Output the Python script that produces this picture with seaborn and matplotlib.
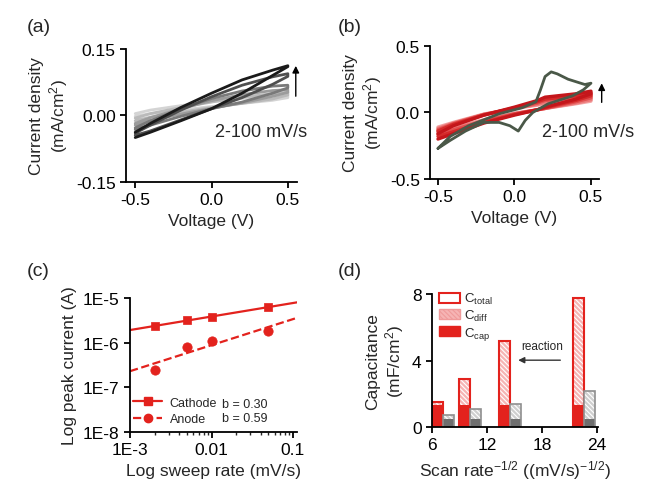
import numpy as np
import pandas as pd
import matplotlib
matplotlib.use('Agg')
import matplotlib.pyplot as plt
import seaborn as sns
from matplotlib.lines import Line2D
from matplotlib.patches import Patch

# --- DATA ---

# (a) CV loops, 2 -> 100 mV/s, light gray -> black
CV_A_V = [-0.5, -0.4, -0.2, 0.0, 0.2, 0.4, 0.5]
CV_A_UPPER = [
    [0.004, 0.012, 0.022, 0.031, 0.038, 0.044, 0.046],
    [-0.006, 0.004, 0.018, 0.030, 0.041, 0.049, 0.052],
    [-0.018, -0.005, 0.015, 0.033, 0.047, 0.056, 0.058],
    [-0.028, -0.012, 0.015, 0.038, 0.055, 0.066, 0.068],
    [-0.040, -0.022, 0.012, 0.042, 0.068, 0.087, 0.094],
    [-0.038, -0.018, 0.018, 0.050, 0.080, 0.102, 0.112],
]
CV_A_LOWER = [
    [-0.002, 0.004, 0.012, 0.020, 0.027, 0.034, 0.040],
    [-0.012, -0.004, 0.007, 0.018, 0.027, 0.037, 0.046],
    [-0.022, -0.012, 0.003, 0.016, 0.028, 0.043, 0.052],
    [-0.032, -0.022, -0.002, 0.015, 0.030, 0.050, 0.062],
    [-0.045, -0.035, -0.010, 0.015, 0.040, 0.070, 0.088],
    [-0.050, -0.038, -0.012, 0.015, 0.050, 0.090, 0.110],
]
CV_A_COLORS = ['#d4d4d4', '#bababa', '#9c9c9c', '#7a7a7a', '#4f4f4f', '#1a1a1a']

# (b) CV loops (red, 2 -> 50 mV/s) and the 100 mV/s loop with redox peaks
CV_B_V = [-0.5, -0.4, -0.2, 0.0, 0.15, 0.2, 0.4, 0.5]
CV_B_UPPER = [
    [-0.11, -0.075, -0.012, 0.030, 0.055, 0.065, 0.090, 0.105],
    [-0.12, -0.080, -0.015, 0.030, 0.060, 0.075, 0.100, 0.115],
    [-0.13, -0.085, -0.015, 0.030, 0.070, 0.090, 0.110, 0.130],
    [-0.14, -0.090, -0.020, 0.035, 0.080, 0.100, 0.125, 0.145],
    [-0.16, -0.100, -0.020, 0.040, 0.090, 0.115, 0.140, 0.160],
]
CV_B_LOWER = [
    [-0.14, -0.110, -0.055, -0.005, 0.020, 0.030, 0.065, 0.085],
    [-0.15, -0.120, -0.060, -0.010, 0.020, 0.030, 0.070, 0.095],
    [-0.165, -0.130, -0.065, -0.010, 0.020, 0.030, 0.080, 0.110],
    [-0.18, -0.145, -0.075, -0.015, 0.020, 0.035, 0.090, 0.125],
    [-0.20, -0.160, -0.080, -0.020, 0.020, 0.040, 0.100, 0.140],
]
CV_B_COLORS = ['#f3a3a3', '#ec7b7b', '#e25050', '#d52a2a', '#c4161b']

PEAK_FWD_V = [-0.5, -0.42, -0.3, -0.1, 0.05, 0.14, 0.17, 0.2, 0.24, 0.28, 0.35, 0.46, 0.5]
PEAK_FWD_I = [-0.27, -0.18, -0.10, -0.01, 0.035, 0.08, 0.17, 0.27, 0.305, 0.29, 0.25, 0.21, 0.22]
PEAK_REV_V = [0.5, 0.45, 0.38, 0.22, 0.12, 0.07, 0.025, -0.03, -0.1, -0.2, -0.32, -0.42, -0.5]
PEAK_REV_I = [0.22, 0.17, 0.125, 0.065, 0.0, -0.06, -0.14, -0.10, -0.075, -0.075, -0.14, -0.21, -0.27]

# (c) peak current vs sweep rate
SWEEP = [0.002, 0.005, 0.01, 0.05]
CATHODE = [2.4e-6, 3.2e-6, 3.7e-6, 6.3e-6]
ANODE = [2.5e-7, 7.9e-7, 1.1e-6, 1.86e-6]
FIT_X = [1e-3, 0.112]
CATHODE_FIT = [1.92e-6, 8.0e-6]
ANODE_FIT = [2.3e-7, 3.6e-6]
B_VALUES = ['b = 0.30', 'b = 0.59']

# (d) capacitance contributions
SCAN_POS = [7.2, 10.1, 14.5, 22.6]
RED_TOTAL = [1.5, 2.9, 5.2, 7.75]
RED_CAP = [1.35, 1.3, 1.3, 1.3]
GRAY_TOTAL = [0.72, 1.1, 1.4, 2.15]
GRAY_CAP = [0.5, 0.5, 0.5, 0.5]

# --- STYLE ---
sns.set_style('ticks')
plt.rcParams['font.family'] = ['Liberation Sans', 'DejaVu Sans']
plt.rcParams['mathtext.fontset'] = 'custom'
plt.rcParams['mathtext.rm'] = 'Liberation Sans'
plt.rcParams['mathtext.it'] = 'Liberation Sans:italic'
plt.rcParams['hatch.linewidth'] = 0.8

RED = '#e3221d'
PINK = '#f6b4b4'
FS = 12.5
HATCH = '\\' * 7


def style_axes(ax):
    for s in ['top', 'right']:
        ax.spines[s].set_visible(False)
    for s in ['left', 'bottom']:
        ax.spines[s].set_linewidth(1.3)
        ax.spines[s].set_color('black')
    ax.tick_params(direction='out', length=4.5, width=1.3, labelsize=FS, pad=3,
                   colors='black')
    ax.tick_params(which='minor', direction='out', length=2.5, width=1.0)


def draw_loop(ax, v, up, low, color, lw):
    xs = list(v) + list(v[::-1])
    ys = list(up) + list(low[::-1])
    sns.lineplot(x=xs, y=ys, sort=False, estimator=None, color=color, lw=lw, ax=ax)


fig = plt.figure(figsize=(6.6, 4.89), dpi=100)

# --- (a) ---
ax = fig.add_axes([0.191, 0.626, 0.259, 0.272])
for up, low, c in zip(CV_A_UPPER, CV_A_LOWER, CV_A_COLORS):
    draw_loop(ax, CV_A_V, up, low, c, 2.0)
ax.set_xlim(-0.56, 0.56)
ax.set_ylim(-0.15, 0.15)
ax.set_xticks([-0.5, 0.0, 0.5])
ax.set_yticks([-0.15, 0.0, 0.15])
ax.set_yticklabels(['-0.15', '0.00', '0.15'])
ax.set_xticklabels(['-0.5', '0.0', '0.5'])
ax.set_xlabel('Voltage (V)', fontsize=FS)
ax.set_ylabel('Current density\n(mA/cm$^2$)', fontsize=FS)
ax.annotate('', xy=(0.552, 0.118), xytext=(0.552, 0.037), annotation_clip=False,
            arrowprops=dict(arrowstyle='-|>', color='black', lw=1.0, mutation_scale=10))
ax.text(0.02, -0.037, '2-100 mV/s', fontsize=13, va='center', ha='left', clip_on=False)
style_axes(ax)

# --- (b) ---
ax = fig.add_axes([0.652, 0.632, 0.255, 0.272])
for up, low, c in zip(CV_B_UPPER, CV_B_LOWER, CV_B_COLORS):
    draw_loop(ax, CV_B_V, up, low, c, 2.4)
sns.lineplot(x=PEAK_FWD_V + PEAK_REV_V, y=PEAK_FWD_I + PEAK_REV_I, sort=False,
             estimator=None, color='#4a5848', lw=2.0, ax=ax)
ax.set_xlim(-0.55, 0.55)
ax.set_ylim(-0.5, 0.5)
ax.set_xticks([-0.5, 0.0, 0.5])
ax.set_yticks([-0.5, 0.0, 0.5])
ax.set_xticklabels(['-0.5', '0.0', '0.5'])
ax.set_yticklabels(['-0.5', '0.0', '0.5'])
ax.set_xlabel('Voltage (V)', fontsize=FS)
ax.set_ylabel('Current density\n(mA/cm$^2$)', fontsize=FS)
ax.annotate('', xy=(0.57, 0.24), xytext=(0.57, 0.055), annotation_clip=False,
            arrowprops=dict(arrowstyle='-|>', color='black', lw=1.0, mutation_scale=10))
ax.text(0.18, -0.14, '2-100 mV/s', fontsize=13, va='center', ha='left', clip_on=False)
style_axes(ax)

# --- (c) ---
ax = fig.add_axes([0.197, 0.1145, 0.253, 0.274])
sns.lineplot(x=FIT_X, y=CATHODE_FIT, color=RED, lw=1.6, ax=ax)
sns.lineplot(x=FIT_X, y=ANODE_FIT, color=RED, lw=1.6, ls='--', ax=ax)
sns.scatterplot(x=SWEEP, y=CATHODE, marker='s', s=40, color=RED, edgecolor=RED, ax=ax)
sns.scatterplot(x=SWEEP, y=ANODE, marker='o', s=45, color=RED, edgecolor=RED, ax=ax)
ax.set_xscale('log')
ax.set_yscale('log')
ax.set_xlim(1e-3, 0.112)
ax.set_ylim(1e-8, 1e-5)
ax.set_xticks([1e-3, 1e-2, 1e-1])
ax.set_xticklabels(['1E-3', '0.01', '0.1'])
ax.set_yticks([1e-8, 1e-7, 1e-6, 1e-5])
ax.set_yticklabels(['1E-8', '1E-7', '1E-6', '1E-5'])
ax.set_xlabel('Log sweep rate (mV/s)', fontsize=FS)
ax.set_ylabel('Log peak current (A)', fontsize=FS)
handles = [Line2D([], [], color=RED, lw=1.6, marker='s', ms=6),
           Line2D([], [], color=RED, lw=1.6, ls='--', marker='o', ms=6)]
ax.legend(handles, ['Cathode', 'Anode'], loc='center left', bbox_to_anchor=(0.02, 0.157),
          frameon=False, fontsize=9, handlelength=2.3, handletextpad=0.6,
          labelspacing=0.35, borderaxespad=0, borderpad=0)
ax.text(0.55, 0.209, B_VALUES[0], transform=ax.transAxes, fontsize=9, va='center')
ax.text(0.55, 0.104, B_VALUES[1], transform=ax.transAxes, fontsize=9, va='center')
style_axes(ax)

# --- (d) ---
ax = fig.add_axes([0.6545, 0.1247, 0.2515, 0.272])
pos = np.array(SCAN_POS)
w = 1.2
red_x = pos - w / 2
gray_x = pos + w / 2
red_cap = np.array(RED_CAP)
red_diff = np.array(RED_TOTAL) - red_cap
gray_cap = np.array(GRAY_CAP)
gray_diff = np.array(GRAY_TOTAL) - gray_cap
# red: hatched diffusion part on top of solid capacitive part, outlined total
ax.bar(red_x, red_diff, w, bottom=red_cap, color=PINK, edgecolor='white',
       hatch=HATCH, lw=0)
ax.bar(red_x, red_cap, w, color=RED, lw=0)
ax.bar(red_x, RED_TOTAL, w, facecolor='none', edgecolor=RED, lw=1.5)
# gray comparison bars
ax.bar(gray_x, gray_diff, w, bottom=gray_cap, color='#cfcfcf', edgecolor='white',
       hatch=HATCH, lw=0)
ax.bar(gray_x, gray_cap, w, color='#6e6e6e', lw=0)
ax.bar(gray_x, GRAY_TOTAL, w, facecolor='none', edgecolor='#8f8f8f', lw=1.2)
ax.set_xlim(6, 24.1)
ax.set_ylim(0, 8)
ax.set_xticks([6, 12, 18, 24])
ax.set_yticks([0, 4, 8])
ax.set_xlabel('Scan rate$^{-1/2}$ ((mV/s)$^{-1/2}$)', fontsize=FS)
ax.set_ylabel('Capacitance\n(mF/cm$^2$)', fontsize=FS)
ax.annotate('', xy=(15.1, 4.02), xytext=(20.3, 4.02),
            arrowprops=dict(arrowstyle='-|>', color='#333333', lw=1.0, mutation_scale=9))
ax.text(18.0, 4.85, 'reaction', fontsize=8.5, ha='center', va='center')
leg_handles = [Patch(facecolor='white', edgecolor=RED, lw=1.5),
               Patch(facecolor=PINK, edgecolor='#ef9a9a', hatch=HATCH, lw=1.0),
               Patch(facecolor=RED, edgecolor=RED, lw=1.0)]
ax.legend(leg_handles, ['C$_{\\mathrm{total}}$', 'C$_{\\mathrm{diff}}$', 'C$_{\\mathrm{cap}}$'],
          loc='upper left', bbox_to_anchor=(0.04, 1.02), frameon=False, fontsize=9.5,
          handlelength=1.6, handleheight=0.8, handletextpad=0.3, labelspacing=0.12,
          borderaxespad=0, borderpad=0)
style_axes(ax)

# panel letters
for lbl, x, y in [('(a)', 0.041, 0.944), ('(b)', 0.512, 0.944),
                  ('(c)', 0.041, 0.444), ('(d)', 0.512, 0.444)]:
    fig.text(x, y, lbl, fontsize=14, va='center')

fig.savefig('out.png', dpi=100)
